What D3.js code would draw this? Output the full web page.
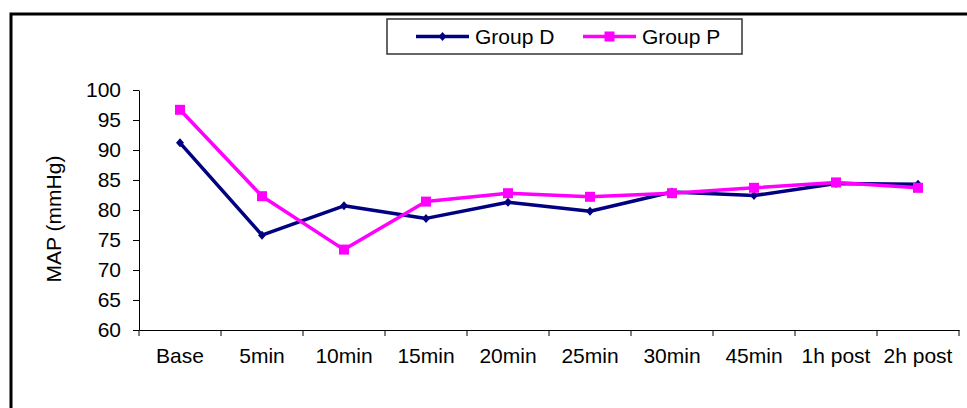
<!DOCTYPE html>
<html>
<head>
<meta charset="utf-8">
<script src="https://cdn.jsdelivr.net/npm/d3@7"></script>
<style>
  html, body { margin: 0; padding: 0; background: #fff; }
  svg { display: block; font-family: "Liberation Sans", Arial, sans-serif; }
</style>
</head>
<body>
<svg id="chart" width="967" height="408"></svg>
<script>
// Time points of measurement
const categories = ["Base", "5min", "10min", "15min", "20min", "25min", "30min", "45min", "1h post", "2h post"];
// Mean arterial pressure (mmHg) per group
const groupD = [91.2, 75.8, 80.7, 78.6, 81.3, 79.8, 83.0, 82.4, 84.4, 84.3];
const groupP = [96.7, 82.3, 73.4, 81.4, 82.8, 82.2, 82.8, 83.7, 84.6, 83.7];
const yTicks = [60, 65, 70, 75, 80, 85, 90, 95, 100];
const seriesNames = ["Group D", "Group P"];

const series = [
  { name: seriesNames[0], values: groupD, color: "#000080", marker: "diamond" },
  { name: seriesNames[1], values: groupP, color: "#FF00FF", marker: "square" }
];

const svg = d3.select("#chart");
const fontSize = 21;
const fontFamily = "Liberation Sans, Arial, sans-serif";

// outer frame
svg.append("rect")
  .attr("x", 11).attr("y", 14)
  .attr("width", 1000).attr("height", 500)
  .attr("fill", "none").attr("stroke", "#000").attr("stroke-width", 3);

const plot = { left: 139, right: 959, top: 90, bottom: 330 };

const x = d3.scaleBand().domain(categories).range([plot.left, plot.right]);
const y = d3.scaleLinear().domain([60, 100]).range([plot.bottom, plot.top]);

// y axis
const yAxis = svg.append("g")
  .attr("transform", `translate(${plot.left},0)`)
  .call(d3.axisLeft(y).tickValues(yTicks).tickSize(6).tickSizeOuter(0).tickPadding(12));
yAxis.select(".domain").attr("stroke", "#000");
yAxis.selectAll(".tick line").attr("stroke", "#000");
yAxis.selectAll(".tick text")
  .attr("font-size", fontSize).attr("font-family", fontFamily)
  .attr("fill", "#000");

// x axis with ticks on category boundaries
const xAxis = svg.append("g")
  .attr("transform", `translate(0,${plot.bottom})`)
  .call(d3.axisBottom(x).tickSize(0).tickSizeOuter(0).tickPadding(18));
xAxis.select(".domain").attr("stroke", "#000");
xAxis.selectAll(".tick text")
  .attr("font-size", fontSize).attr("font-family", fontFamily)
  .attr("fill", "#000");
const edges = categories.map(c => x(c)).concat([x(categories[categories.length - 1]) + x.bandwidth()]);
xAxis.selectAll(".edge")
  .data(edges)
  .enter().append("line")
  .attr("class", "edge")
  .attr("x1", d => d).attr("x2", d => d)
  .attr("y1", 0).attr("y2", 6)
  .attr("stroke", "#000");

// y axis title
svg.append("text")
  .attr("transform", `translate(61,${(plot.top + plot.bottom) / 2 + 9}) rotate(-90)`)
  .attr("text-anchor", "middle")
  .attr("font-size", fontSize)
  .text("MAP (mmHg)");

const cx = c => x(c) + x.bandwidth() / 2;
const line = d3.line().x((d, i) => cx(categories[i])).y(d => y(d));

function drawMarker(g, type, color) {
  if (type === "diamond") {
    g.append("path").attr("d", "M0,-4.5L4,0L0,4.5L-4,0Z").attr("fill", color);
  } else {
    g.append("rect").attr("x", -5).attr("y", -5).attr("width", 10).attr("height", 10).attr("fill", color);
  }
}

series.forEach(s => {
  svg.append("path")
    .datum(s.values)
    .attr("d", line)
    .attr("fill", "none")
    .attr("stroke", s.color)
    .attr("stroke-width", 3.5)
    .attr("stroke-linejoin", "round");
  s.values.forEach((v, i) => {
    const g = svg.append("g").attr("transform", `translate(${cx(categories[i])},${y(v)})`);
    drawMarker(g, s.marker, s.color);
  });
});

// legend
const legend = svg.append("g");
legend.append("rect")
  .attr("x", 387).attr("y", 19).attr("width", 355).attr("height", 35)
  .attr("fill", "#fff").attr("stroke", "#333").attr("stroke-width", 1.5);
const legendItems = [
  { s: series[0], x0: 416 },
  { s: series[1], x0: 583 }
];
legendItems.forEach(it => {
  const ly = 36.5;
  legend.append("line")
    .attr("x1", it.x0).attr("x2", it.x0 + 53)
    .attr("y1", ly).attr("y2", ly)
    .attr("stroke", it.s.color).attr("stroke-width", 3.5);
  const g = legend.append("g").attr("transform", `translate(${it.x0 + 26.5},${ly})`);
  drawMarker(g, it.s.marker, it.s.color);
  legend.append("text")
    .attr("x", it.x0 + 59).attr("y", ly)
    .attr("dy", "0.35em")
    .attr("font-size", fontSize)
    .text(it.s.name);
});
</script>
</body>
</html>
